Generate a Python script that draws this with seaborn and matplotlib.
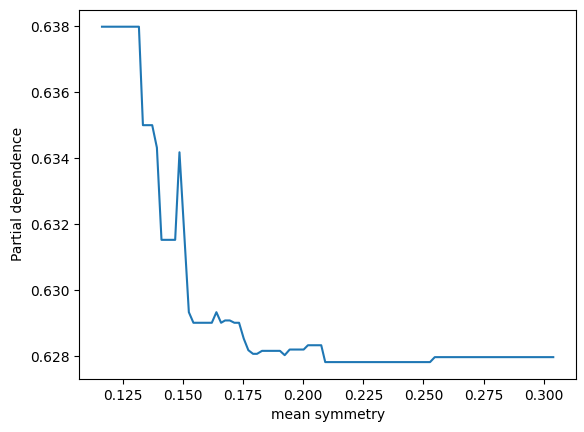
import pandas as pd
import seaborn as sns
import matplotlib
matplotlib.use("Agg")
import matplotlib.pyplot as plt

# vertices of the partial dependence curve
mean_symmetry = [0.11628, 0.13164, 0.13331, 0.13717, 0.13912, 0.14103, 0.14672, 0.14851,
                 0.15241, 0.15432, 0.16196, 0.16387, 0.16582, 0.16748, 0.16944, 0.17135,
                 0.17330, 0.17525, 0.17716, 0.17911, 0.18077, 0.18285, 0.19032, 0.19228,
                 0.19435, 0.20017, 0.20195, 0.20748, 0.20914, 0.25274, 0.25470, 0.30399]
partial_dep = [0.63798, 0.63798, 0.63500, 0.63500, 0.63432, 0.63153, 0.63153, 0.63418,
               0.62934, 0.62902, 0.62902, 0.62934, 0.62902, 0.62909, 0.62909, 0.62902,
               0.62902, 0.62854, 0.62819, 0.62808, 0.62808, 0.62817, 0.62817, 0.62804,
               0.62821, 0.62821, 0.62834, 0.62834, 0.62783, 0.62783, 0.62798, 0.62798]

df = pd.DataFrame({"mean symmetry": mean_symmetry, "Partial dependence": partial_dep})

fig, ax = plt.subplots(figsize=(5.84, 4.32), dpi=100)
fig.subplots_adjust(left=0.136, right=0.986, top=0.977, bottom=0.123)

sns.lineplot(data=df, x="mean symmetry", y="Partial dependence", estimator=None,
             sort=False, color="#1f77b4", linewidth=1.5, ax=ax)
ax.set_xlabel("mean symmetry")
ax.set_ylabel("Partial dependence")

plt.savefig("out.png", dpi=100)
